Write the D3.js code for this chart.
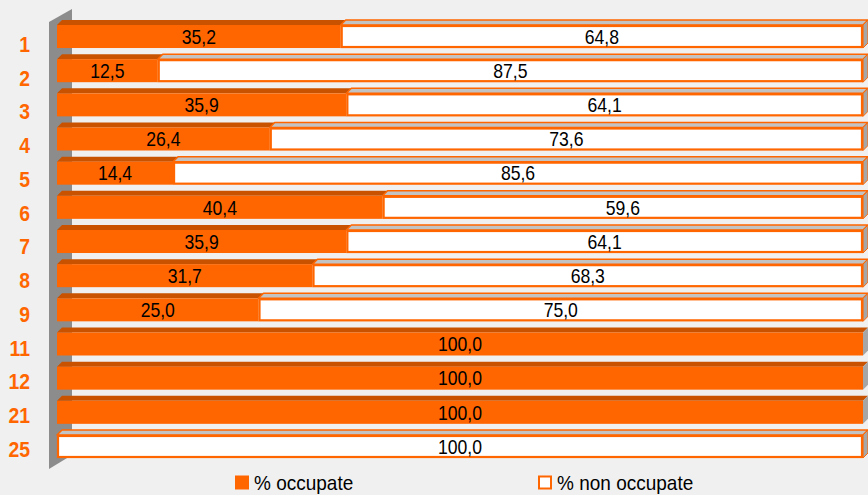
<!DOCTYPE html>
<html>
<head>
<meta charset="utf-8">
<script src="https://cdn.jsdelivr.net/npm/d3@7"></script>
<style>
  html, body { margin: 0; padding: 0; background: #f0f0f0; }
  svg { display: block; }
</style>
</head>
<body>
<svg id="chart" width="868" height="495"></svg>
<script>
// Categories and stacked percentages
const categories = ["1", "2", "3", "4", "5", "6", "7", "8", "9", "11", "12", "21", "25"];
const occupate    = [35.2, 12.5, 35.9, 26.4, 14.4, 40.4, 35.9, 31.7, 25.0, 100.0, 100.0, 100.0, 0];
const nonOccupate = [64.8, 87.5, 64.1, 73.6, 85.6, 59.6, 64.1, 68.3, 75.0, 0, 0, 0, 100.0];
const seriesNames = ["% occupate", "% non occupate"];

const ORANGE = "#ff6600";
const ORANGE_TOP = "#c85200";
const GREY_TOP = "#c3c3c3";
const GREY_SIDE = "#a6a6a6";
const WALL = "#8c8c8c";
const DEPTH = 5;
const FONT = "'Liberation Sans', Arial, sans-serif";

const svg = d3.select("#chart");

const x = d3.scaleLinear().domain([0, 100]).range([57, 863]);
const y = d3.scaleBand().domain(categories).range([20, 458]).paddingInner(0.18).paddingOuter(0);
const yLabel = d3.scalePoint().domain(categories).range([44, 449]);

// Left wall of the 3D plot
svg.append("polygon")
  .attr("points", [[49, 22], [72, 9], [72, 455], [49, 469]].map(p => p.join(",")).join(" "))
  .attr("fill", WALL);

const fmt = v => d3.format(".1f")(v).replace(".", ",");

// Text condensed horizontally around its anchor point
function condensed(sel, px, py, sx) {
  return sel.attr("transform", `translate(${px},${py}) scale(${sx},1)`);
}

const rows = categories.map((c, i) => ({ cat: c, occ: occupate[i], non: nonOccupate[i] }));

rows.forEach(r => {
  const y0 = y(r.cat);
  const yTop = y0 + DEPTH;
  const yBot = y0 + y.bandwidth();
  const segs = [];
  let acc = 0;
  if (r.occ > 0) { segs.push({ a: acc, b: acc + r.occ, kind: "occ", v: r.occ }); acc += r.occ; }
  if (r.non > 0) { segs.push({ a: acc, b: acc + r.non, kind: "non", v: r.non }); acc += r.non; }

  const g = svg.append("g");
  segs.forEach((s, k) => {
    const xa = x(s.a), xb = x(s.b);
    const isOcc = s.kind === "occ";
    // top face
    g.append("polygon")
      .attr("points", [[xa, yTop], [xa + DEPTH, y0], [xb + DEPTH, y0], [xb, yTop]].map(p => p.join(",")).join(" "))
      .attr("fill", isOcc ? ORANGE_TOP : GREY_TOP)
      .attr("stroke", isOcc ? "none" : ORANGE)
      .attr("stroke-width", isOcc ? 0 : 1.5)
      .attr("stroke-linejoin", "round");
    // right side face on the last segment
    if (k === segs.length - 1) {
      g.append("polygon")
        .attr("points", [[xb, yTop], [xb + DEPTH, y0], [xb + DEPTH, yBot - DEPTH], [xb, yBot]].map(p => p.join(",")).join(" "))
        .attr("fill", GREY_SIDE)
        .attr("stroke", isOcc ? "none" : ORANGE)
        .attr("stroke-width", 1);
    }
    // front face
    g.append("rect")
      .attr("x", isOcc ? xa : xa + 1)
      .attr("y", isOcc ? yTop : yTop + 1)
      .attr("width", isOcc ? xb - xa : xb - xa - 2)
      .attr("height", isOcc ? yBot - yTop : yBot - yTop - 2)
      .attr("fill", isOcc ? ORANGE : "#ffffff")
      .attr("stroke", isOcc ? "none" : ORANGE)
      .attr("stroke-width", isOcc ? 0 : 2.2);
    // value label
    g.append("text")
      .call(condensed, (xa + xb) / 2, (yTop + yBot) / 2, 0.88)
      .attr("dy", "0.36em")
      .attr("text-anchor", "middle")
      .attr("font-family", FONT)
      .attr("font-size", 20)
      .attr("fill", "#000")
      .text(fmt(s.v));
  });
});

// Category labels
svg.append("g").selectAll("text")
  .data(categories)
  .join("text")
  .each(function (d) { condensed(d3.select(this), 30, yLabel(d), 0.88); })
  .attr("dy", "0.36em")
  .attr("text-anchor", "end")
  .attr("font-family", FONT)
  .attr("font-weight", "bold")
  .attr("font-size", 22)
  .attr("fill", ORANGE)
  .text(d => d);

// Legend
const legend = svg.append("g");
const legendItems = [
  { name: seriesNames[0], x: 236, fill: ORANGE },
  { name: seriesNames[1], x: 539, fill: "#ffffff" }
];
legendItems.forEach(it => {
  legend.append("rect")
    .attr("x", it.x).attr("y", 476.5)
    .attr("width", 12).attr("height", 12)
    .attr("fill", it.fill)
    .attr("stroke", ORANGE)
    .attr("stroke-width", 2);
  legend.append("text")
    .call(condensed, it.x + 18, 490, 0.95)
    .attr("font-family", FONT)
    .attr("font-size", 20)
    .attr("fill", "#000")
    .text(it.name);
});
</script>
</body>
</html>
